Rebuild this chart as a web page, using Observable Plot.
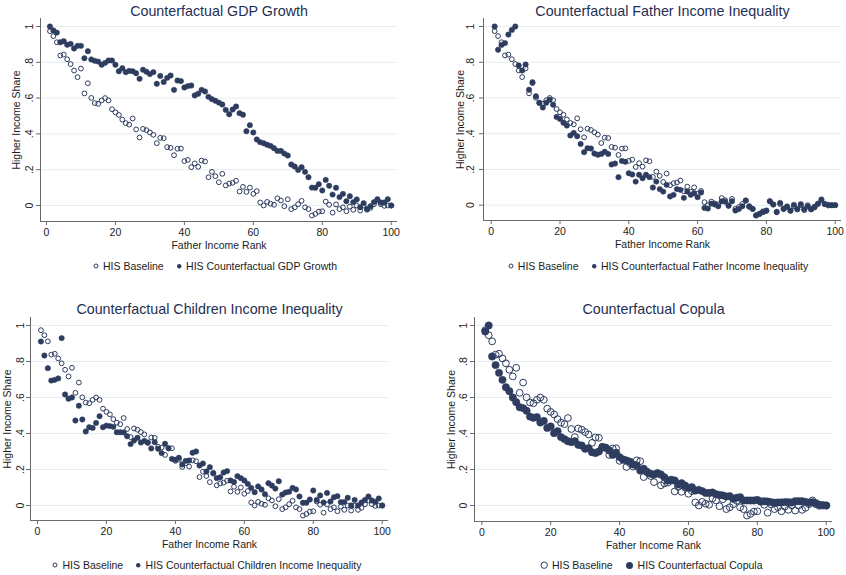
<!DOCTYPE html>
<html>
<head>
<meta charset="utf-8">
<script src="https://cdn.jsdelivr.net/npm/d3@7"></script>
<script src="https://cdn.jsdelivr.net/npm/@observablehq/plot@0.6"></script>
<style>
  html, body { margin: 0; padding: 0; background: #fff; }
  #page { position: relative; width: 846px; height: 575px; overflow: hidden; background: #fff;
          font-family: "Liberation Sans", Arial, Helvetica, sans-serif; }
  .panel { position: absolute; }
  .legend { position: absolute; display: flex; justify-content: center; align-items: center;
            font-size: 10.5px; color: #1c1c1c; white-space: nowrap; line-height: 1; }
  .legend .item { display: flex; align-items: center; }
  .legend .item + .item { margin-left: 12px; }
  .legend svg { margin-right: 4px; overflow: visible; }
</style>
</head>
<body>
<div id="page"></div>
<script>
// Father income rank (percentile) on the x axis
const fatherRank = d3.range(1, 101);

// Higher income share, baseline (same in every panel)
const hisBaseline = [
  0.974, 0.946, 0.912, 0.838, 0.843, 0.817, 0.790, 0.754, 0.717, 0.765,
  0.626, 0.683, 0.601, 0.572, 0.568, 0.587, 0.600, 0.587, 0.538, 0.520,
  0.506, 0.480, 0.460, 0.452, 0.486, 0.425, 0.380, 0.428, 0.421, 0.408,
  0.395, 0.348, 0.378, 0.376, 0.326, 0.322, 0.281, 0.317, 0.318, 0.248,
  0.255, 0.214, 0.235, 0.216, 0.251, 0.246, 0.158, 0.188, 0.164, 0.130,
  0.177, 0.112, 0.123, 0.127, 0.138, 0.078, 0.104, 0.076, 0.100, 0.065,
  0.080, 0.017, 0.000, 0.020, 0.010, 0.004, 0.040, 0.028, -0.004, 0.035,
  -0.020, -0.010, 0.007, 0.026, -0.010, -0.020, -0.056, -0.047, -0.034, -0.032,
  0.022, 0.004, -0.040, 0.006, -0.020, -0.010, -0.032, -0.006, -0.024, 0.000,
  -0.028, 0.000, -0.024, -0.013, 0.007, 0.028, 0.007, -0.002, 0.000, 0.000
];

// Counterfactual: GDP growth
const hisGdpGrowth = [
  1.000, 0.978, 0.966, 0.912, 0.918, 0.898, 0.903, 0.877, 0.892, 0.892,
  0.823, 0.862, 0.816, 0.808, 0.804, 0.786, 0.797, 0.810, 0.810, 0.786,
  0.750, 0.767, 0.745, 0.752, 0.750, 0.739, 0.708, 0.758, 0.747, 0.734,
  0.745, 0.680, 0.724, 0.690, 0.713, 0.726, 0.646, 0.698, 0.695, 0.659,
  0.667, 0.670, 0.615, 0.624, 0.646, 0.637, 0.607, 0.594, 0.585, 0.575,
  0.564, 0.534, 0.510, 0.536, 0.553, 0.516, 0.507, 0.415, 0.449, 0.408,
  0.369, 0.354, 0.348, 0.339, 0.333, 0.320, 0.305, 0.305, 0.290, 0.279,
  0.229, 0.218, 0.199, 0.214, 0.188, 0.158, 0.100, 0.099, 0.119, 0.084,
  0.143, 0.110, 0.061, 0.099, 0.047, 0.065, 0.024, 0.052, 0.019, 0.034,
  -0.010, 0.013, -0.019, -0.004, 0.019, 0.035, 0.017, 0.017, 0.035, 0.000
];

// Counterfactual: father income inequality
const hisFatherIneq = [
  1.000, 0.870, 0.897, 0.907, 0.955, 0.981, 1.000, 0.782, 0.754, 0.787,
  0.646, 0.688, 0.610, 0.573, 0.547, 0.573, 0.590, 0.562, 0.494, 0.483,
  0.461, 0.446, 0.390, 0.405, 0.386, 0.343, 0.297, 0.319, 0.317, 0.289,
  0.282, 0.287, 0.299, 0.287, 0.228, 0.233, 0.157, 0.248, 0.243, 0.179,
  0.172, 0.132, 0.170, 0.151, 0.170, 0.157, 0.099, 0.132, 0.090, 0.076,
  0.114, 0.049, 0.058, 0.090, 0.086, 0.041, 0.076, 0.058, 0.067, 0.045,
  0.071, -0.015, -0.019, 0.009, 0.004, -0.006, 0.022, 0.020, -0.002, 0.022,
  -0.030, -0.021, -0.006, 0.026, -0.006, -0.021, -0.058, -0.049, -0.039, -0.030,
  0.022, 0.004, -0.037, 0.013, -0.021, -0.007, -0.030, 0.002, -0.021, 0.006,
  -0.022, -0.006, -0.022, -0.009, 0.009, 0.032, 0.006, 0.002, 0.000, 0.000
];

// Counterfactual: children income inequality
const hisChildIneq = [
  0.911, 0.833, 0.763, 0.694, 0.698, 0.706, 0.930, 0.617, 0.593, 0.600,
  0.472, 0.554, 0.478, 0.411, 0.435, 0.431, 0.459, 0.496, 0.435, 0.444,
  0.441, 0.437, 0.407, 0.407, 0.406, 0.385, 0.341, 0.361, 0.376, 0.350,
  0.359, 0.350, 0.317, 0.352, 0.315, 0.291, 0.343, 0.319, 0.259, 0.254,
  0.265, 0.228, 0.248, 0.250, 0.293, 0.300, 0.222, 0.233, 0.189, 0.213,
  0.181, 0.152, 0.157, 0.183, 0.191, 0.139, 0.131, 0.163, 0.152, 0.139,
  0.120, 0.098, 0.074, 0.106, 0.089, 0.063, 0.124, 0.111, 0.094, 0.135,
  0.061, 0.072, 0.076, 0.098, 0.089, 0.050, 0.015, 0.015, 0.033, 0.083,
  0.031, 0.056, 0.017, 0.070, 0.022, 0.046, 0.052, 0.019, 0.019, 0.043,
  0.000, 0.031, 0.000, 0.017, 0.031, 0.050, 0.028, 0.020, 0.039, 0.000
];

// Counterfactual: copula
const hisCopula = [
  0.967, 1.000, 0.828, 0.780, 0.737, 0.698, 0.657, 0.635, 0.600, 0.574,
  0.546, 0.541, 0.526, 0.494, 0.487, 0.491, 0.461, 0.470, 0.431, 0.439,
  0.402, 0.413, 0.380, 0.369, 0.357, 0.352, 0.357, 0.337, 0.333, 0.315,
  0.319, 0.296, 0.291, 0.300, 0.324, 0.320, 0.306, 0.281, 0.293, 0.269,
  0.256, 0.250, 0.244, 0.228, 0.222, 0.194, 0.204, 0.185, 0.176, 0.172,
  0.180, 0.172, 0.157, 0.139, 0.143, 0.139, 0.117, 0.124, 0.111, 0.098,
  0.102, 0.083, 0.087, 0.080, 0.070, 0.070, 0.072, 0.063, 0.059, 0.056,
  0.050, 0.052, 0.037, 0.043, 0.046, 0.028, 0.028, 0.028, 0.028, 0.031,
  0.022, 0.024, 0.022, 0.019, 0.015, 0.017, 0.017, 0.019, 0.019, 0.017,
  0.024, 0.024, 0.024, 0.020, 0.015, 0.019, 0.013, 0.004, 0.002, 0.000
];

// Axis ticks and labels
const xTicks = [0, 20, 40, 60, 80, 100];
const yTicks = [0, 0.2, 0.4, 0.6, 0.8, 1];
const yTickLabels = ["0", ".2", ".4", ".6", ".8", "1"];
const xTitle = "Father Income Rank";
const yTitle = "Higher Income Share";
const baselineLabel = "HIS Baseline";

const panelTitles = [
  "Counterfactual GDP Growth",
  "Counterfactual Father Income Inequality",
  "Counterfactual Children Income Inequality",
  "Counterfactual Copula"
];
const counterfactualLabels = [
  "HIS Counterfactual GDP Growth",
  "HIS Counterfactual Father Income Inequality",
  "HIS Counterfactual Children Income Inequality",
  "HIS Counterfactual Copula"
];
const counterfactualSeries = [hisGdpGrowth, hisFatherIneq, hisChildIneq, hisCopula];

// Styling
const FONT = '"Liberation Sans", Arial, Helvetica, sans-serif';
const NAVY = "#2d3c5f";
const TITLE = "#1f2f52";
const GRID = "#e6edf0";
const AXIS = "#6a6a6a";
const INK = "#1c1c1c";

// Page layout of each graph (pixel geometry of the plot region)
const layouts = [
  { left: 0,   top: 0,   axisX: 40,  rightX: 397, x0: 46,    x100: 390.7, y1: 26,  y0: 205,   axisY: 221, ytl: -11, ytt: -24, titleDy: -7, r: 2.4, rf: 2.7, lr: 2.0, lrf: 2.2, legendCx: 215, legendCy: 266 },
  { left: 423, top: 0,   axisX: 483, rightX: 841, x0: 490.7, x100: 834.7, y1: 26,  y0: 204.7, axisY: 220, ytl: -13, ytt: -23, titleDy: -7, r: 2.4, rf: 2.7, lr: 2.0, lrf: 2.2, legendCx: 658, legendCy: 266 },
  { left: 0,   top: 290, axisX: 30,  rightX: 388, x0: 37,    x100: 381.7, y1: 325, y0: 505,   axisY: 520, ytl: -10, ytt: -23, titleDy: -8, r: 2.4, rf: 2.7, lr: 2.0, lrf: 2.2, legendCx: 207, legendCy: 565 },
  { left: 423, top: 290, axisX: 474, rightX: 832, x0: 481.3, x100: 825.7, y1: 325, y0: 505,   axisY: 521, ytl: -11, ytt: -23, titleDy: -8, r: 3.4, rf: 3.7, lr: 3.2, lrf: 3.5, legendCx: 651, legendCy: 565 }
];

const PANEL_W = 423, PANEL_H = 262;
const page = document.getElementById("page");

layouts.forEach((L, i) => {
  const values = counterfactualSeries[i];
  const rows = fatherRank.map((rank, j) => ({ rank, base: hisBaseline[j], cf: values[j] }));

  const frameTop = L.y1 - 8;
  const kx = (L.x100 - L.x0) / 100;
  const ky = L.y0 - L.y1;
  const xDomain = [-(L.x0 - L.axisX) / kx, 100 + (L.rightX - L.x100) / kx];
  const yDomain = [-(L.axisY - L.y0) / ky, 1 + (L.y1 - frameTop) / ky];

  const svg = Plot.plot({
    width: PANEL_W,
    height: PANEL_H,
    marginLeft: L.axisX - L.left,
    marginRight: L.left + PANEL_W - L.rightX,
    marginTop: frameTop - L.top,
    marginBottom: L.top + PANEL_H - L.axisY,
    style: { fontFamily: FONT, fontSize: "10.5px", color: INK, background: "transparent", overflow: "visible" },
    x: { domain: xDomain, label: null },
    y: { domain: yDomain, label: null },
    marks: [
      Plot.gridY(yTicks, { stroke: GRID, strokeOpacity: 1, strokeWidth: 1 }),
      Plot.ruleX([xDomain[0]], { stroke: AXIS, strokeWidth: 1 }),
      Plot.ruleY([yDomain[0]], { stroke: AXIS, strokeWidth: 1 }),
      Plot.axisX({ ticks: xTicks, tickSize: 4, tickPadding: 3, stroke: AXIS, fill: INK, label: null, tickFormat: d => String(d) }),
      Plot.axisY({ ticks: yTicks, tickSize: 4, stroke: AXIS, label: null, tickFormat: () => "" }),
      Plot.text(yTicks, {
        y: d => d, text: (d, k) => yTickLabels[k],
        frameAnchor: "left", dx: L.ytl, rotate: -90,
        textAnchor: "middle", lineAnchor: "middle", fill: INK
      }),
      Plot.text([yTitle], { frameAnchor: "left", dx: L.ytt, rotate: -90, textAnchor: "middle", lineAnchor: "middle", fill: INK }),
      Plot.text([xTitle], { frameAnchor: "bottom", dy: 24, lineAnchor: "middle", fill: INK }),
      Plot.text([panelTitles[i]], { frameAnchor: "top", dy: L.titleDy, lineAnchor: "middle", fontSize: 14.3, fill: TITLE }),
      Plot.dot(rows, { x: "rank", y: "base", r: L.r, stroke: NAVY, strokeWidth: 1, fill: "none" }),
      Plot.dot(rows, { x: "rank", y: "cf", r: L.rf, fill: NAVY, stroke: NAVY, strokeWidth: 0.5 })
    ]
  });

  const holder = document.createElement("div");
  holder.className = "panel";
  holder.style.left = L.left + "px";
  holder.style.top = L.top + "px";
  holder.appendChild(svg);
  page.appendChild(holder);

  // Legend: hollow marker for baseline, filled for counterfactual
  const legend = document.createElement("div");
  legend.className = "legend";
  legend.style.left = (L.legendCx - 210) + "px";
  legend.style.width = "420px";
  legend.style.top = (L.legendCy - 7) + "px";
  legend.style.height = "14px";
  const entries = [
    { label: baselineLabel, hollow: true, r: L.lr },
    { label: counterfactualLabels[i], hollow: false, r: L.lrf }
  ];
  entries.forEach(e => {
    const item = document.createElement("span");
    item.className = "item";
    const s = 2 * e.r + 2;
    item.innerHTML =
      `<svg width="${s}" height="${s}"><circle cx="${s / 2}" cy="${s / 2}" r="${e.r}" ` +
      (e.hollow ? `fill="none" stroke="${NAVY}" stroke-width="1"` : `fill="${NAVY}"`) +
      `></circle></svg><span>${e.label}</span>`;
    legend.appendChild(item);
  });
  page.appendChild(legend);
});
</script>
</body>
</html>
